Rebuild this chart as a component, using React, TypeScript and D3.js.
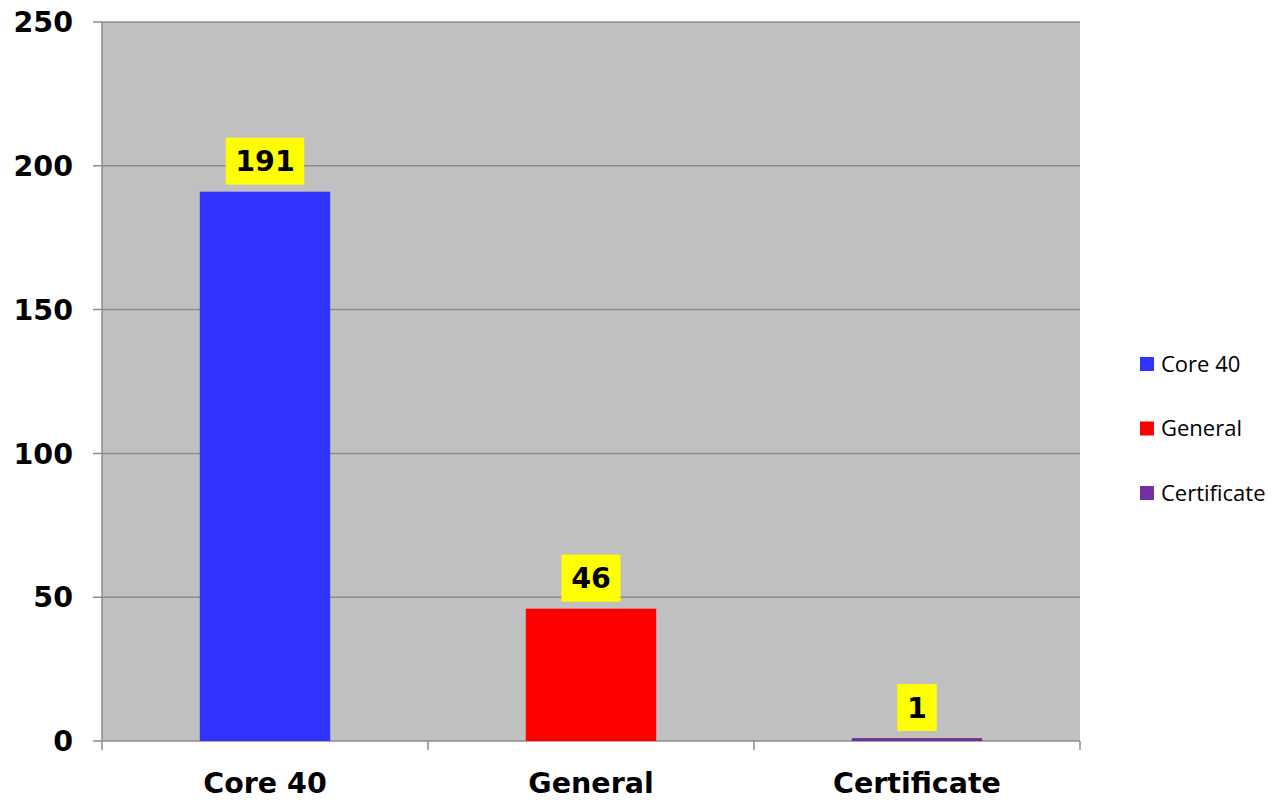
import React from "react";
import * as d3 from "d3";

const categories = ["Core 40", "General", "Certificate"];
const values = [191, 46, 1];
const colors = ["#3333ff", "#ff0000", "#7030a0"];
const yTicks = [0, 50, 100, 150, 200, 250];

export default function App() {
  const W = 1279, H = 801;
  const left = 102, right = 1080, top = 22, bottom = 741;
  const x = d3.scaleBand<string>().domain(categories).range([left, right]).paddingInner(0).paddingOuter(0);
  const y = d3.scaleLinear().domain([0, 250]).range([bottom, top]);
  const barW = x.bandwidth() * 0.4;
  const tickFont = "'DejaVu Sans', Verdana, sans-serif";
  const xEdges = [left, ...categories.map((c) => (x(c) as number) + x.bandwidth())];
  return (
    <svg width={W} height={H} style={{ position: "absolute", left: 0, top: 0 }}>
      <rect x={0} y={0} width={W} height={H} fill="#ffffff" />
      <rect x={left} y={top} width={right - left} height={bottom - top} fill="#c0c0c0" />
      {yTicks.map((t) => (
        <g key={t}>
          <line x1={left - 9} x2={right} y1={y(t)} y2={y(t)} stroke="#8c8c8c" strokeWidth={1.5} />
          <text x={73} y={y(t)} dy="0.36em" textAnchor="end" fontFamily={tickFont} fontWeight="bold" fontSize={28.5} fill="#000">
            {t}
          </text>
        </g>
      ))}
      <line x1={left} x2={left} y1={top} y2={bottom} stroke="#8c8c8c" strokeWidth={1.5} />
      {xEdges.map((e, i) => (
        <line key={i} x1={e} x2={e} y1={bottom} y2={bottom + 9} stroke="#8c8c8c" strokeWidth={1.5} />
      ))}
      {categories.map((c, i) => {
        const cx = (x(c) as number) + x.bandwidth() / 2;
        const yt = y(values[i]);
        const h = Math.max(bottom - yt, 2.5);
        return (
          <g key={c}>
            <rect x={cx - barW / 2} y={bottom - h} width={barW} height={h} fill={colors[i]} />
            <text x={cx} y={bottom + 52} textAnchor="middle" fontFamily={tickFont} fontWeight="bold" fontSize={28.5} fill="#000">
              {c}
            </text>
          </g>
        );
      })}
      {categories.map((c, i) => {
        const cx = (x(c) as number) + x.bandwidth() / 2;
        const yt = y(values[i]);
        const label = String(values[i]);
        const bw = label.length * 19.5 + 20;
        const boxBottom = Math.min(yt, bottom - 3) - 7;
        return (
          <g key={"l" + c}>
            <rect x={cx - bw / 2} y={boxBottom - 47} width={bw} height={47} fill="#ffff00" />
            <text x={cx} y={boxBottom - 23.5} dy="0.36em" textAnchor="middle" fontFamily={tickFont} fontWeight="bold" fontSize={28.5} fill="#000">
              {label}
            </text>
          </g>
        );
      })}
      {categories.map((c, i) => (
        <g key={"g" + c} transform={`translate(1140, ${364 + i * 64.5})`}>
          <rect x={0} y={-7} width={14} height={14} fill={colors[i]} />
          <text x={21} y={0} dy="0.35em" fontFamily="'Open Sans', Calibri, sans-serif" fontSize={22} fill="#000">
            {c}
          </text>
        </g>
      ))}
    </svg>
  );
}
